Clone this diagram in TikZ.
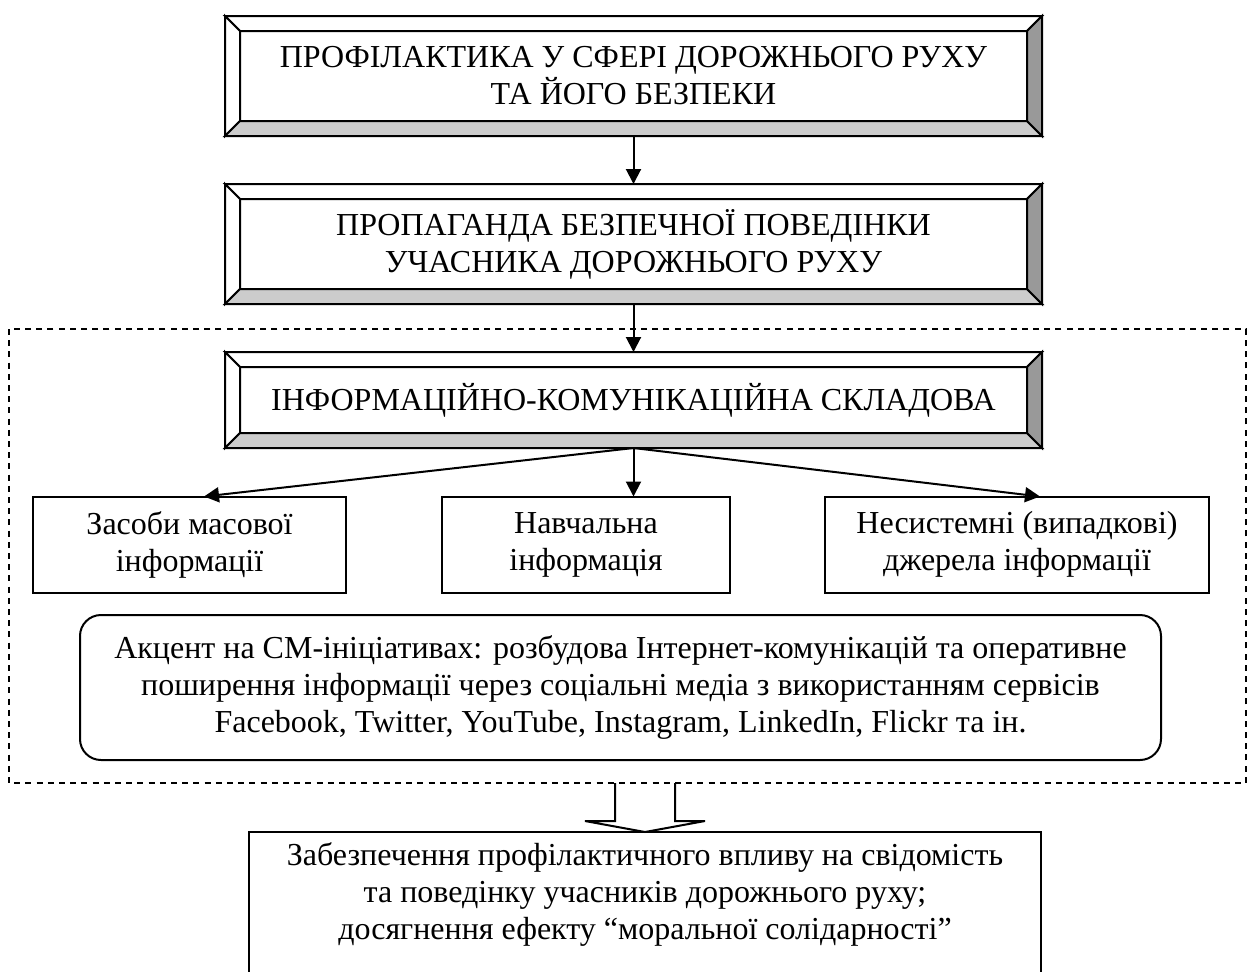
\documentclass[tikz,border=0pt]{standalone}
\usepackage{fontspec}
\setmainfont{Liberation Serif}
\usetikzlibrary{arrows.meta}
\tikzset{
  txt/.style={font=\fontsize{16pt}{18.5pt}\selectfont, align=center},
  bevelbox/.style={txt, draw, fill=white, line width=1pt, outer sep=0pt, inner sep=0pt, minimum width=408.5pt},
  smallbox/.style={txt, draw, line width=1pt, outer sep=0pt, inner sep=0pt, minimum height=48pt},
  roundbox/.style={txt, draw, line width=1pt, rounded corners=10.5pt, outer sep=0pt, inner sep=0pt},
  bevline/.style={line width=1pt, line join=miter},
  arr/.style={line width=1pt, -{Triangle[length=7.5pt,width=7.5pt]}},
  dashframe/.style={line width=1pt, dash pattern=on 3pt off 2.6pt},
}
\begin{document}
\begin{tikzpicture}[x=0.5pt, y=-0.5pt]
\useasboundingbox (0,0) rectangle (1249,971);
\clip (0,0) rectangle (1249,971);
% bevel boxes
\node[bevelbox, minimum height=60pt] (b1) at (633.5,76) {ПРОФІЛАКТИКА У СФЕРІ ДОРОЖНЬОГО РУХУ\\ТА ЙОГО БЕЗПЕКИ};
\node[bevelbox, minimum height=60pt] (b2) at (633.5,244) {ПРОПАГАНДА БЕЗПЕЧНОЇ ПОВЕДІНКИ\\УЧАСНИКА ДОРОЖНЬОГО РУХУ};
\node[bevelbox, minimum height=48pt] (b3) at (633.5,400) {ІНФОРМАЦІЙНО-КОМУНІКАЦІЙНА СКЛАДОВА};
\foreach \n in {b1,b2,b3}{
  \draw[bevline, fill=white] (\n.north west) -- (\n.north east) -- ([shift={(-7.5pt,-7.5pt)}]\n.north east) -- ([shift={(7.5pt,-7.5pt)}]\n.north west) -- cycle;
  \draw[bevline, fill=white] (\n.north west) -- ([shift={(7.5pt,-7.5pt)}]\n.north west) -- ([shift={(7.5pt,7.5pt)}]\n.south west) -- (\n.south west) -- cycle;
  \draw[bevline, fill=black!20] (\n.south west) -- ([shift={(7.5pt,7.5pt)}]\n.south west) -- ([shift={(-7.5pt,7.5pt)}]\n.south east) -- (\n.south east) -- cycle;
  \draw[bevline, fill=black!40] (\n.north east) -- (\n.south east) -- ([shift={(-7.5pt,7.5pt)}]\n.south east) -- ([shift={(-7.5pt,-7.5pt)}]\n.north east) -- cycle;
}
% small boxes
\node[smallbox, minimum width=156.5pt] (s1) at (189.5,544.5) {Засоби масової\\інформації};
\node[smallbox, minimum width=144pt] (s2) at (586,544.5) {Навчальна\\інформація};
\node[smallbox, minimum width=192pt] (s3) at (1017,544.5) {Несистемні (випадкові)\\джерела інформації};
% rounded box
\node[roundbox, minimum width=540.5pt, minimum height=72.5pt] (r) at (620.5,687.5) {Акцент на СМ-ініціативах: розбудова Інтернет-комунікацій та оперативне\\поширення інформації через соціальні медіа з використанням сервісів\\Facebook, Twitter, YouTube, Instagram, LinkedIn, Flickr та ін.};
% connectors
\draw[arr] (b1.south) -- (b2.north);
\draw[arr] (b2.south) -- (b3.north);
\coordinate (t1) at (204,496.5);
\coordinate (t3) at (1040,496.5);
\draw[arr] (b3.south) -- (t1);
\draw[arr] (b3.south) -- (s2.north -| b3.south);
\draw[arr] (b3.south) -- (t3);
% bottom box
\node[draw, line width=1pt, outer sep=0pt, minimum width=396pt, minimum height=150pt, anchor=north] (bot) at (645,832) {};
\node[txt] (bottxt) at (645,894) {Забезпечення профілактичного впливу на свідомість\\та поведінку учасників дорожнього руху;\\досягнення ефекту “моральної солідарності”};
% hollow arrow
\coordinate (h0) at (615,783);
\coordinate (h6) at (675,783);
\draw[line width=1pt, line join=miter] (h0) -- (615,821) -- (585,821) -- (bot.north) -- (705,821) -- (675,821) -- (h6);
% dashed frame
\draw[dashframe] (9,329) rectangle (1246,783);
\end{tikzpicture}
\end{document}
